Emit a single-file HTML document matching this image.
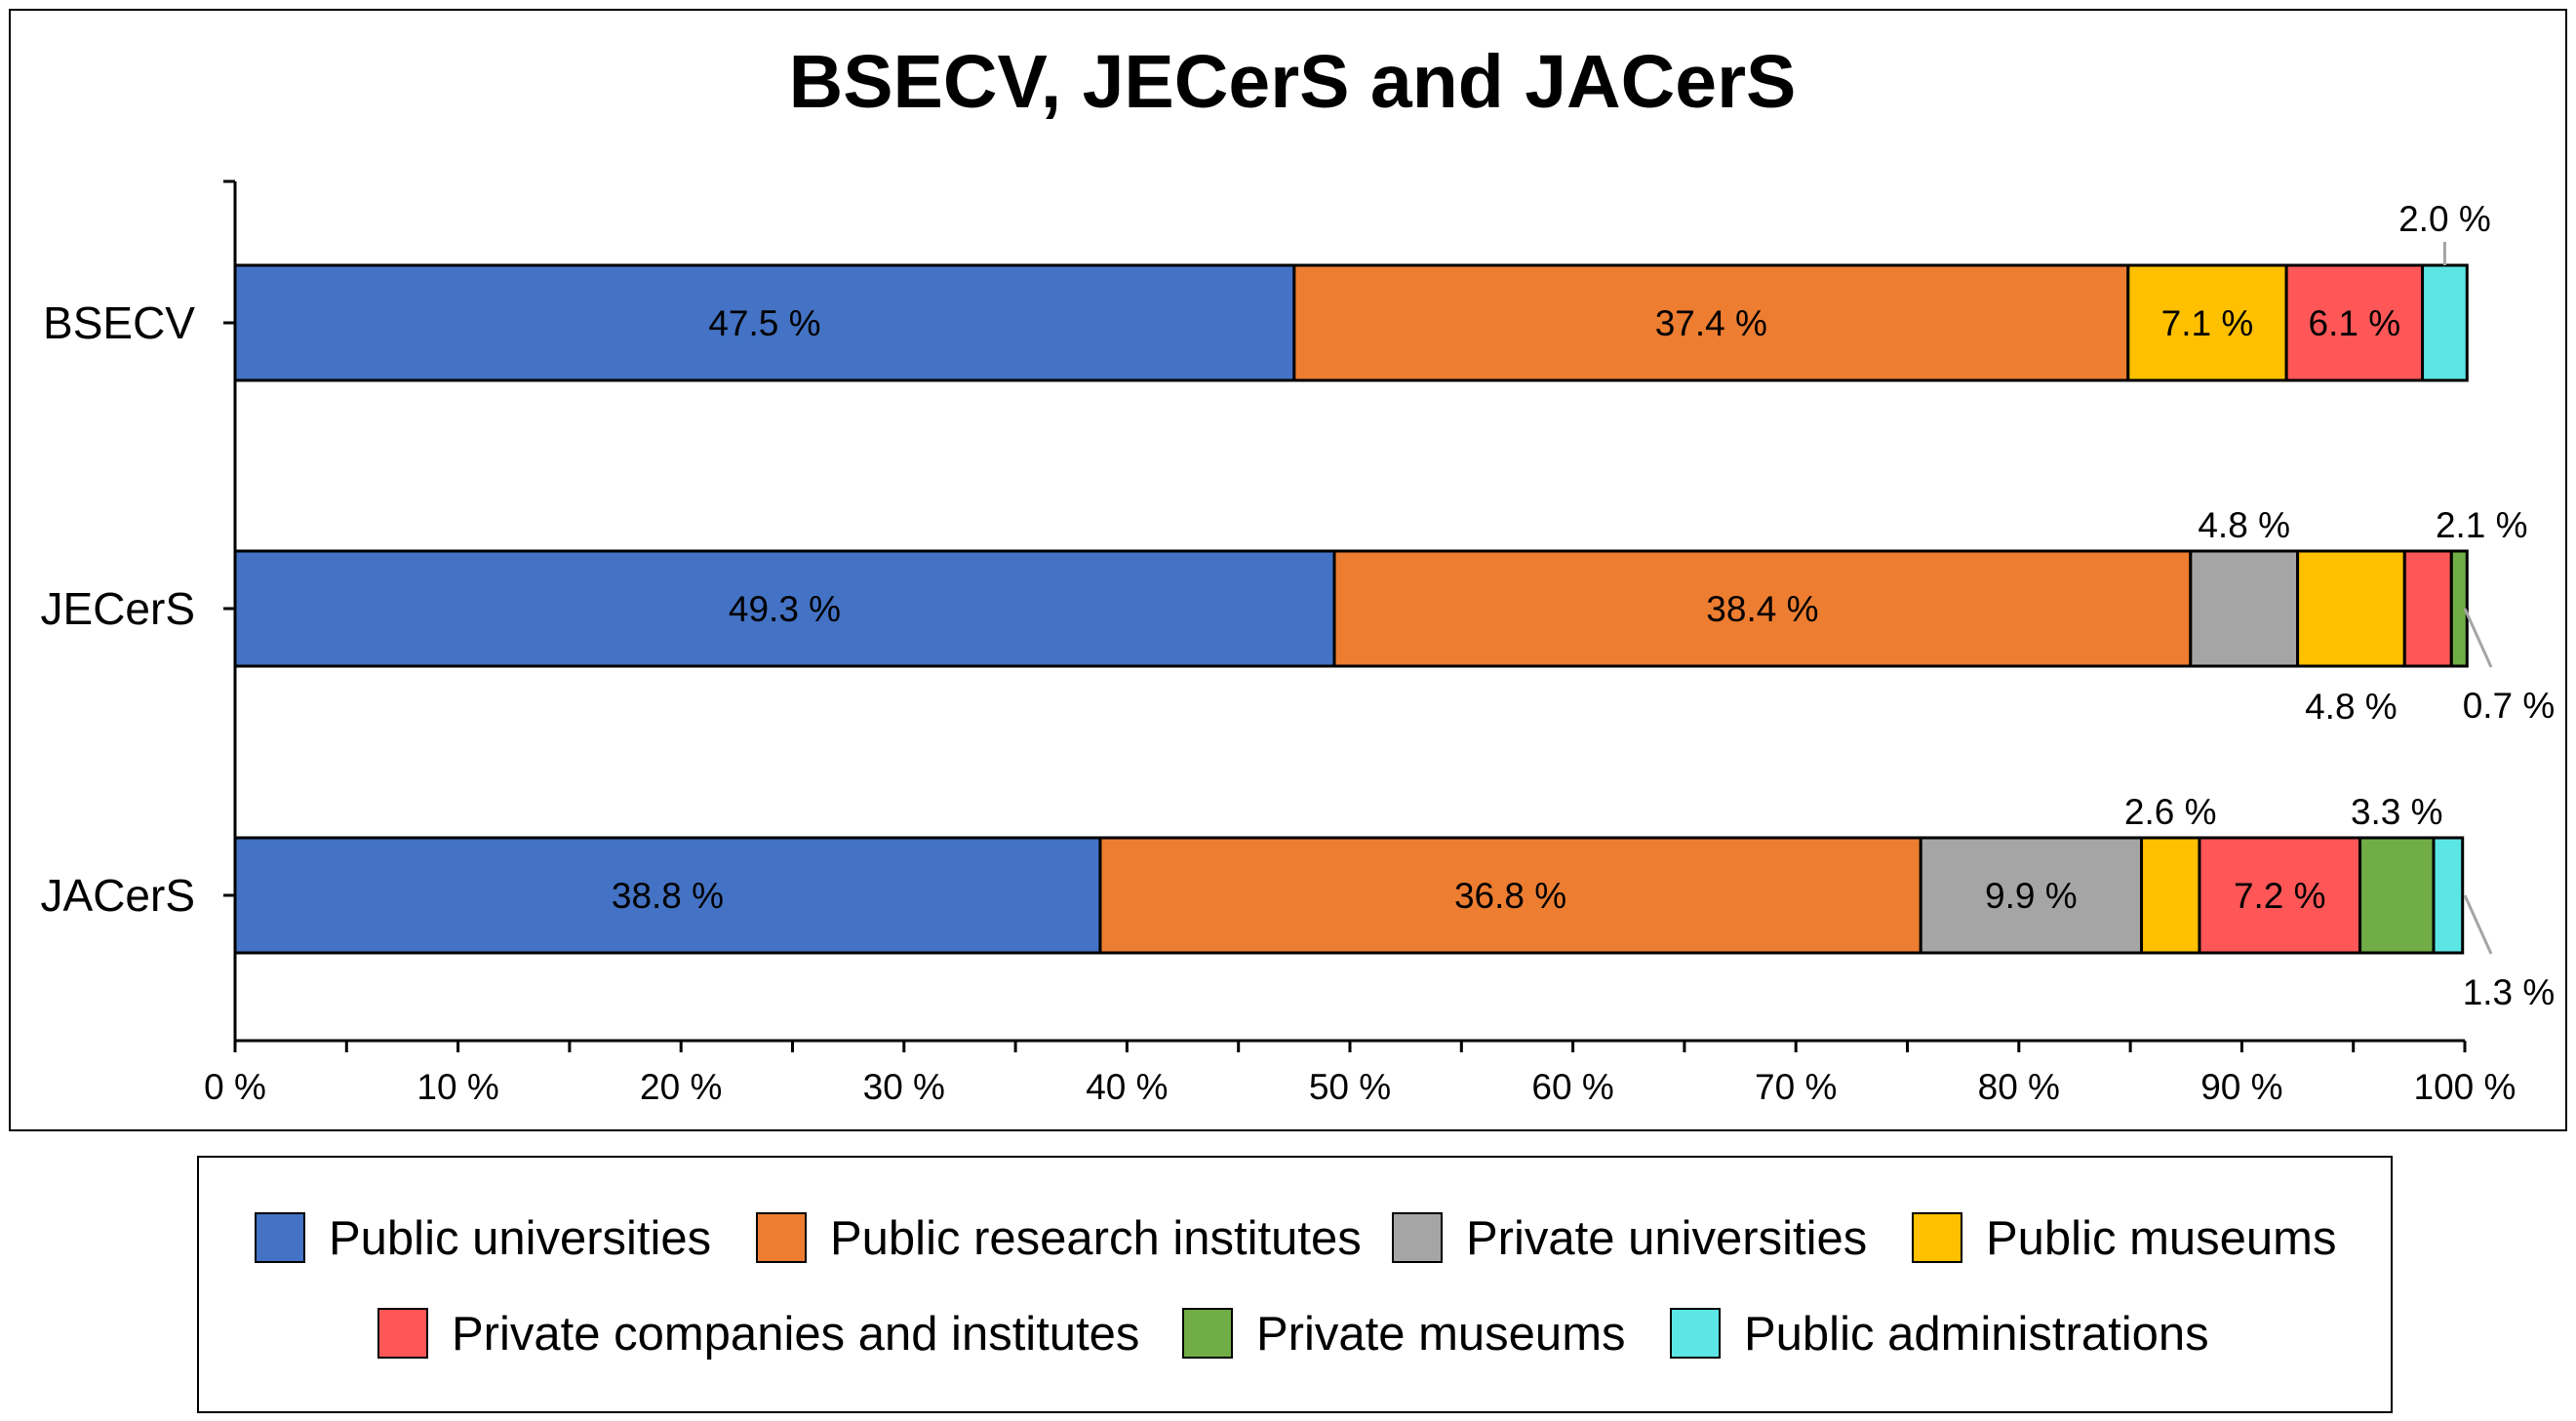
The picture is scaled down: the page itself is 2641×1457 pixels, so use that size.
<!DOCTYPE html>
<html><head><meta charset="utf-8"><style>
body{margin:0;background:#fff;}
svg{display:block;font-family:"Liberation Sans",Arial,sans-serif;}
</style></head><body>
<svg id="chart" width="2641" height="1457" viewBox="0 0 2641 1457">
<rect x="10" y="10" width="2621" height="1149" fill="#fff" stroke="#000" stroke-width="2"/>
<text x="1325" y="110" text-anchor="middle" font-size="77" font-weight="bold">BSECV, JECerS and JACerS</text>
<g id="plot"></g>
<rect x="203" y="1186" width="2249" height="262" fill="#fff" stroke="#000" stroke-width="2"/>
<g id="legend"></g>
</svg>
<script>
const categories = ["BSECV", "JECerS", "JACerS"];
const seriesNames = ["Public universities","Public research institutes","Private universities","Public museums","Private companies and institutes","Private museums","Public administrations"];
const bsecv = [47.5, 37.4, 0, 7.1, 6.1, 0, 2.0];
const jecers = [49.3, 38.4, 4.8, 4.8, 2.1, 0.7, 0];
const jacers = [38.8, 36.8, 9.9, 2.6, 7.2, 3.3, 1.3];
const xTicks = [0,10,20,30,40,50,60,70,80,90,100];
const colors = ["#4472C4","#ED7D31","#A5A5A5","#FFC000","#FF5757","#70AD47","#5CE5E5"];
const placement = [
  ["i","i","","i","i","","a"],
  ["i","i","a","b","a","br",""],
  ["i","i","i","a","i","a","br"]
];
const rows = [bsecv, jecers, jacers];
const NS = "http://www.w3.org/2000/svg";
const X0 = 241, X1 = 2527;
const xs = v => X0 + (X1 - X0) * v / 100;
const barTop = [272, 565, 859], barH = 118;
const plot = document.getElementById('plot');
function mk(tag, attrs, parent){const e=document.createElementNS(NS,tag);for(const k in attrs)e.setAttribute(k,attrs[k]);(parent||plot).appendChild(e);return e;}
let ax = mk('line',{x1:X0,y1:186,x2:X0,y2:1067,stroke:'#000','stroke-width':3});


mk('line',{x1:X0-12,y1:186,x2:X0,y2:186,stroke:'#000','stroke-width':3});
let xa = mk('line',{x1:X0,y1:1067,x2:X1,y2:1067,stroke:'#000','stroke-width':3});


for(let v=0; v<=100; v+=5){
  mk('line',{x1:xs(v),y1:1067,x2:xs(v),y2:1079,stroke:'#000','stroke-width':3});
}
xTicks.forEach(v=>{
  const t = mk('text',{x:xs(v),y:1127,'text-anchor':'middle','font-size':37});
  t.textContent = v + ' %';
  
  
});
categories.forEach((c,ri)=>{
  const cy = barTop[ri] + barH/2;
  mk('line',{x1:X0-12,y1:cy,x2:X0,y2:cy,stroke:'#000','stroke-width':3});
  const t = mk('text',{x:200,y:cy+16,'text-anchor':'end','font-size':46});
  t.textContent = c;
  
  
  let acc = 0;
  rows[ri].forEach((v,si)=>{
    if(v<=0) return;
    const x = xs(acc), w = xs(acc+v) - xs(acc);
    const r = mk('rect',{x:x,y:barTop[ri],width:w,height:barH,fill:colors[si],stroke:'#000','stroke-width':3});
    
    
    const mid = x + w/2, p = placement[ri][si];
    let lx = mid, ly = cy + 13, anchor='middle';
    if(p==='a'){ ly = barTop[ri] - 14; }
    if(p==='b'){ ly = barTop[ri] + barH + 54; }
    if(p==='a' && ri===0 && si===6){ ly = barTop[ri] - 35; mk('line',{x1:mid,y1:barTop[ri]-24,x2:mid,y2:barTop[ri],stroke:'#A5A5A5','stroke-width':3}); }
    if(p==='br'){
      mk('line',{x1:X1,y1:cy,x2:X1+27,y2:cy+60,stroke:'#A5A5A5','stroke-width':3});
      lx = X1+45; ly = cy + 112;
    }
    if(ri===1 && si===4){ lx = mid + 55; }
    const lt = mk('text',{x:lx,y:ly,'text-anchor':anchor,'font-size':37});
    lt.textContent = v.toFixed(1) + ' %';
    
    
    acc += v;
  });
});
const leg = document.getElementById('legend');
const legPos = [[262,1269],[776,1269],[1428,1269],[1961,1269],[388,1367],[1213,1367],[1713,1367]];
seriesNames.forEach((n,i)=>{
  const [x,y] = legPos[i];
  const s = mk('rect',{x:x,y:y-25,width:50,height:50,fill:colors[i],stroke:'#000','stroke-width':2},leg);
  
  
  const t = mk('text',{x:x+75,y:y+17,'font-size':49},leg);
  t.textContent = n;
  
  
});
</script>
</body></html>
